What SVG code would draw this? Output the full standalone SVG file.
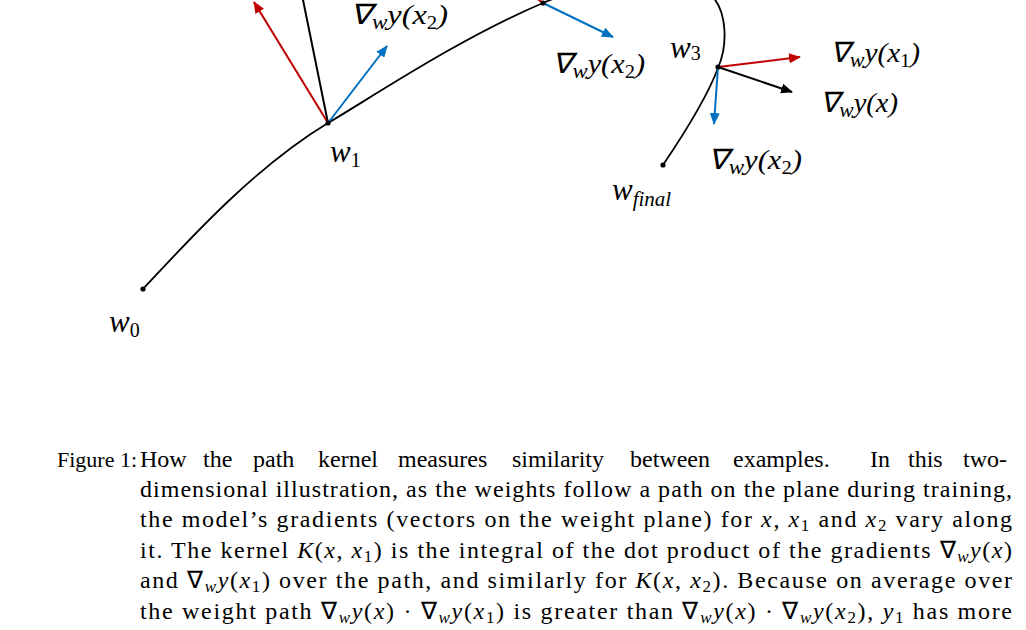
<svg xmlns="http://www.w3.org/2000/svg" width="1026" height="630" viewBox="0 0 1026 630">
<style>
.path{fill:none;stroke:#000;stroke-width:1.8}
.dot{fill:#000}
.r{stroke:#C00000;stroke-width:2;fill:none}
.b{stroke:#0070C0;stroke-width:2;fill:none}
.k{stroke:#000;stroke-width:2;fill:none}
.lbl{font-family:"Liberation Serif",serif;font-style:italic;font-size:28px;fill:#000}
.wl{font-family:"Liberation Serif",serif;font-style:italic;font-size:31px;fill:#000}
.cap{font-family:"Liberation Serif",serif;font-size:24px;fill:#000}
.m{font-style:italic}
</style>
<defs>
<marker id="ar" viewBox="0 0 12 10" refX="11" refY="5" markerWidth="12" markerHeight="10" markerUnits="userSpaceOnUse" orient="auto"><path d="M0,0 L12,5 L0,10 Z" fill="#C00000"/></marker>
<marker id="ab" viewBox="0 0 12 10" refX="11" refY="5" markerWidth="12" markerHeight="10" markerUnits="userSpaceOnUse" orient="auto"><path d="M0,0 L12,5 L0,10 Z" fill="#0070C0"/></marker>
<marker id="ak" viewBox="0 0 12 10" refX="11" refY="5" markerWidth="12" markerHeight="10" markerUnits="userSpaceOnUse" orient="auto"><path d="M0,0 L12,5 L0,10 Z" fill="#000"/></marker>
</defs>
<rect width="1026" height="630" fill="#fff"/>
<g id="connectors">
<path class="path" d="M143,289 C180,250 250,170 328,123 C372,97 460,38 543,3 C560,-4 575,-10 590,-15"/>
<path class="path" d="M712,-4 C727,12 728,45 718,68 C708,95 690,125 663,165"/>
<line class="r" x1="328" y1="123" x2="254" y2="2" marker-end="url(#ar)"/>
<line class="k" x1="328" y1="123" x2="301" y2="-10"/>
<line class="b" x1="328" y1="123" x2="387" y2="46" marker-end="url(#ab)"/>
<line class="r" x1="543" y1="3" x2="528" y2="-8"/>
<line class="b" x1="543" y1="3" x2="613" y2="37" marker-end="url(#ab)"/>
<line class="r" x1="718" y1="67" x2="800" y2="57" marker-end="url(#ar)"/>
<line class="k" x1="718" y1="67" x2="792" y2="92" marker-end="url(#ak)"/>
<line class="b" x1="718" y1="67" x2="714" y2="124" marker-end="url(#ab)"/>
</g>
<g id="w0"><circle class="dot" cx="143" cy="289" r="2.6"/><text class="wl" x="109" y="332">w<tspan font-size="20" font-style="normal" dy="5">0</tspan></text></g>
<g id="w1"><circle class="dot" cx="328" cy="123" r="2.6"/><text class="wl" x="330" y="162">w<tspan font-size="20" font-style="normal" dy="5">1</tspan></text></g>
<g id="w2"><circle class="dot" cx="543" cy="3" r="2.6"/></g>
<g id="w3"><circle class="dot" cx="718" cy="67" r="2.6"/><text class="wl" x="670" y="58">w<tspan font-size="20" font-style="normal" dy="2">3</tspan></text></g>
<g id="wfinal"><circle class="dot" cx="663" cy="165" r="2.6"/><text class="wl" x="612" y="200">w<tspan font-size="21" dy="6">final</tspan></text></g>
<g id="g1"><text class="lbl" x="350" y="24" font-size="26" textLength="98" lengthAdjust="spacingAndGlyphs">∇<tspan font-size="20" dy="5">w</tspan><tspan dy="-5">y(x</tspan><tspan font-size="18" font-style="normal" dy="5">2</tspan><tspan dy="-5">)</tspan></text></g>
<g id="g2"><text class="lbl" x="552" y="73" textLength="93" lengthAdjust="spacingAndGlyphs">∇<tspan font-size="21" dy="5">w</tspan><tspan dy="-5">y(x</tspan><tspan font-size="19" font-style="normal" dy="5">2</tspan><tspan dy="-5">)</tspan></text></g>
<g id="g3"><text class="lbl" x="830" y="62" textLength="90" lengthAdjust="spacingAndGlyphs">∇<tspan font-size="21" dy="5">w</tspan><tspan dy="-5">y(x</tspan><tspan font-size="19" font-style="normal" dy="5">1</tspan><tspan dy="-5">)</tspan></text></g>
<g id="g4"><text class="lbl" x="820" y="112" textLength="78" lengthAdjust="spacingAndGlyphs">∇<tspan font-size="21" dy="5">w</tspan><tspan dy="-5">y(x)</tspan></text></g>
<g id="g5"><text class="lbl" x="708" y="169" textLength="94" lengthAdjust="spacingAndGlyphs">∇<tspan font-size="21" dy="5">w</tspan><tspan dy="-5">y(x</tspan><tspan font-size="19" font-style="normal" dy="5">2</tspan><tspan dy="-5">)</tspan></text></g>
<g id="caption" class="cap">
<text x="57" y="467" font-size="22">Figure 1:</text>
<text y="467"><tspan x="140">How</tspan><tspan x="203">the</tspan><tspan x="253">path</tspan><tspan x="318">kernel</tspan><tspan x="398">measures</tspan><tspan x="512">similarity</tspan><tspan x="630">between</tspan><tspan x="733">examples.</tspan><tspan x="870">In</tspan><tspan x="908">this</tspan><tspan x="963">two-</tspan></text>
<text x="140" y="497" textLength="872" lengthAdjust="spacing">dimensional illustration, as the weights follow a path on the plane during training,</text>
<text x="140" y="527" textLength="872" lengthAdjust="spacing">the model’s gradients (vectors on the weight plane) for <tspan class="m">x</tspan>, <tspan class="m">x</tspan><tspan font-size="17" dy="4">1</tspan><tspan dy="-4"> and </tspan><tspan class="m">x</tspan><tspan font-size="17" dy="4">2</tspan><tspan dy="-4"> vary along</tspan></text>
<text x="140" y="558" textLength="872" lengthAdjust="spacing">it. The kernel <tspan class="m">K</tspan>(<tspan class="m">x</tspan>, <tspan class="m">x</tspan><tspan font-size="17" dy="4">1</tspan><tspan dy="-4">) is the integral of the dot product of the gradients ∇</tspan><tspan class="m" font-size="17" dy="4">w</tspan><tspan class="m" dy="-4">y</tspan>(<tspan class="m">x</tspan>)</text>
<text x="140" y="588" textLength="872" lengthAdjust="spacing">and ∇<tspan class="m" font-size="17" dy="4">w</tspan><tspan class="m" dy="-4">y</tspan>(<tspan class="m">x</tspan><tspan font-size="17" dy="4">1</tspan><tspan dy="-4">) over the path, and similarly for </tspan><tspan class="m">K</tspan>(<tspan class="m">x</tspan>, <tspan class="m">x</tspan><tspan font-size="17" dy="4">2</tspan><tspan dy="-4">). Because on average over</tspan></text>
<text x="140" y="619" textLength="872" lengthAdjust="spacing">the weight path ∇<tspan class="m" font-size="17" dy="4">w</tspan><tspan class="m" dy="-4">y</tspan>(<tspan class="m">x</tspan>) · ∇<tspan class="m" font-size="17" dy="4">w</tspan><tspan class="m" dy="-4">y</tspan>(<tspan class="m">x</tspan><tspan font-size="17" dy="4">1</tspan><tspan dy="-4">) is greater than ∇</tspan><tspan class="m" font-size="17" dy="4">w</tspan><tspan class="m" dy="-4">y</tspan>(<tspan class="m">x</tspan>) · ∇<tspan class="m" font-size="17" dy="4">w</tspan><tspan class="m" dy="-4">y</tspan>(<tspan class="m">x</tspan><tspan font-size="17" dy="4">2</tspan><tspan dy="-4">), </tspan><tspan class="m">y</tspan><tspan font-size="17" dy="4">1</tspan><tspan dy="-4"> has more</tspan></text>
</g>
</svg>
